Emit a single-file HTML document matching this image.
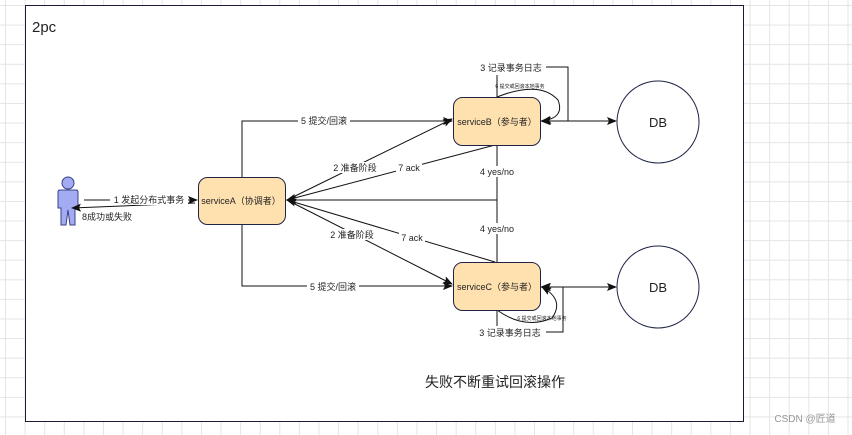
<!DOCTYPE html>
<html><head><meta charset="utf-8"><style>
html,body{margin:0;padding:0;}
body{width:852px;height:435px;overflow:hidden;background-color:#fff;
background-image:linear-gradient(#e4e4e4 1px,transparent 1px),linear-gradient(90deg,#e4e4e4 1px,transparent 1px);
background-size:19.6px 19.6px;background-position:5px 5px;}
svg{position:absolute;left:0;top:0;}
text{font-family:"Liberation Sans","Noto Sans CJK SC",sans-serif;fill:#222;}
</style></head><body>
<svg width="852" height="435" viewBox="0 0 852 435">
<defs>
<marker id="a" markerWidth="10" markerHeight="8" refX="9" refY="4" orient="auto" markerUnits="userSpaceOnUse">
<path d="M0,0 L10,4 L0,8 L2,4 Z" fill="#111"/></marker>
</defs>
<rect x="25.5" y="5.5" width="718" height="416" fill="#fff" stroke="#1a1a3a" stroke-width="1"/>
<text x="32" y="32" font-size="15" fill="#222">2pc</text>

<!-- actor -->
<g fill="#a3acf2" stroke="#3a3f8a" stroke-width="1">
<circle cx="68" cy="183" r="6"/>
<path d="M60,190 L76,190 Q78,190 78,192 L78,208 L75,208 L75,225 L70,225 L68,210 L66,225 L61,225 L61,208 L58,208 L58,192 Q58,190 60,190 Z"/>
</g>

<g stroke="#111" stroke-width="1" fill="none">
<!-- actor <-> A -->
<line x1="84" y1="200" x2="197" y2="200" marker-end="url(#a)"/>
<line x1="195" y1="203" x2="72" y2="208" marker-end="url(#a)"/>
<!-- A to B/C via elbows -->
<polyline points="242,177 242,121 452,121" marker-end="url(#a)"/>
<polyline points="242,224 242,286 452,286" marker-end="url(#a)"/>
<!-- prepare -->
<line x1="287" y1="200" x2="452" y2="119" marker-end="url(#a)"/>
<line x1="287" y1="200" x2="452" y2="284" marker-end="url(#a)"/>
<!-- ack -->
<line x1="495" y1="145" x2="287" y2="200" marker-end="url(#a)"/>
<line x1="495" y1="262" x2="287" y2="200" marker-end="url(#a)"/>
<!-- yes/no -->
<line x1="497" y1="145" x2="497" y2="262"/>
<line x1="497" y1="200" x2="287" y2="200" marker-end="url(#a)"/>
<!-- B to DB -->
<line x1="550" y1="121" x2="616" y2="121" marker-end="url(#a)"/>
<line x1="560" y1="121" x2="541" y2="121" marker-end="url(#a)"/>
<line x1="550" y1="287" x2="616" y2="287" marker-end="url(#a)"/>
<line x1="560" y1="287" x2="541" y2="287" marker-end="url(#a)"/>
<!-- log loops -->
<line x1="497" y1="97" x2="497" y2="75"/>
<polyline points="546,67 568,67 568,121 542,121" marker-end="url(#a)"/>
<line x1="497" y1="310" x2="497" y2="326"/>
<polyline points="546,332 563,332 563,287 542,287" marker-end="url(#a)"/>
<!-- curved local commit -->
<path d="M497,97 Q540,80 558,100 Q565,118 542,121" marker-end="url(#a)"/>
<path d="M497,310 Q525,330 552,318 Q565,300 542,287" marker-end="url(#a)"/>
</g>

<!-- boxes -->
<g fill="#ffe1b0" stroke="#1f2347" stroke-width="1">
<rect x="198.5" y="177.5" width="87" height="47" rx="9"/>
<rect x="453.5" y="97.5" width="87" height="48" rx="9"/>
<rect x="453.5" y="262.5" width="87" height="48" rx="9"/>
</g>
<g fill="#fff" stroke="#1f2347" stroke-width="1">
<circle cx="658" cy="122" r="41"/>
<circle cx="658" cy="287" r="41"/>
</g>

<g font-size="9" text-anchor="middle">
<text x="241" y="204">serviceA（协调者）</text>
<text x="497" y="125">serviceB（参与者）</text>
<text x="497" y="290">serviceC（参与者）</text>
</g>
<g font-size="13" text-anchor="middle">
<text x="658" y="127">DB</text>
<text x="658" y="292">DB</text>
</g>

<g font-size="9" text-anchor="middle">
<rect x="110" y="194" width="78" height="11" fill="#fff"/>
<text x="149" y="203">1 发起分布式事务</text>
<text x="107" y="220">8成功或失败</text>
<rect x="298" y="115" width="52" height="11" fill="#fff"/>
<text x="324" y="124">5 提交/回滚</text>
<rect x="307" y="280" width="52" height="11" fill="#fff"/>
<text x="333" y="290">5 提交/回滚</text>
<rect x="332" y="162" width="46" height="11" fill="#fff"/>
<text x="355" y="171">2 准备阶段</text>
<rect x="396" y="162" width="26" height="11" fill="#fff"/>
<text x="409" y="171">7 ack</text>
<rect x="329" y="229" width="46" height="11" fill="#fff"/>
<text x="352" y="238">2 准备阶段</text>
<rect x="399" y="232" width="26" height="11" fill="#fff"/>
<text x="412" y="241">7 ack</text>
<rect x="476" y="166" width="42" height="11" fill="#fff"/>
<text x="497" y="175">4 yes/no</text>
<rect x="476" y="223" width="42" height="11" fill="#fff"/>
<text x="497" y="232">4 yes/no</text>
<text x="511" y="71">3 记录事务日志</text>
<text x="510" y="336">3 记录事务日志</text>
</g>
<g font-size="5" text-anchor="middle">
<text x="520" y="88">6 提交或回滚本地事务</text>
<text x="542" y="320">6 提交或回滚本地事务</text>
</g>
<text x="495" y="387" font-size="14" text-anchor="middle">失败不断重试回滚操作</text>
<text x="805" y="422" font-size="10" text-anchor="middle" fill="#999" style="fill:#999">CSDN @匠道</text>
</svg>
</body></html>
